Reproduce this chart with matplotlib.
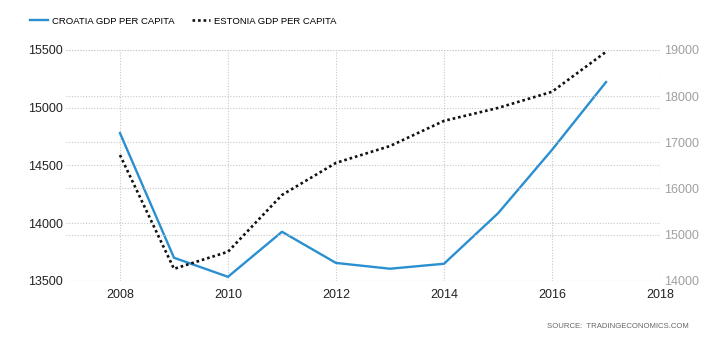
import matplotlib.pyplot as plt

plt.rcParams['font.family'] = ['Liberation Sans', 'DejaVu Sans']

years = [2008, 2009, 2010, 2011, 2012, 2013, 2014, 2015, 2016, 2017]
croatia = [14780, 13700, 13535, 13925, 13655, 13605, 13648, 14085, 14635, 15222]
estonia = [16725, 14260, 14630, 15860, 16555, 16920, 17465, 17745, 18095, 18960]

left_ticks = [13500, 14000, 14500, 15000, 15500]
right_ticks = [14000, 15000, 16000, 17000, 18000, 19000]
year_ticks = [2008, 2010, 2012, 2014, 2016, 2018]

fig = plt.figure(figsize=(7.14, 3.4), dpi=100)
ax = fig.add_axes([0.0924, 0.174, 0.832, 0.679])
ax2 = ax.twinx()

grid_kw = dict(color='#c8c8c8', linestyle=(0, (1, 1.5)), linewidth=0.8)

l1, = ax.plot(years, croatia, color='#2a8fd0', linewidth=1.7, label='CROATIA GDP PER CAPITA')
l2, = ax2.plot(years, estonia, color='#111111', linewidth=1.9, linestyle=(0, (1, 1.1)),
               label='ESTONIA GDP PER CAPITA')

ax.set_xlim(2007, 2018)
ax.set_ylim(13500, 15500)
ax2.set_ylim(14000, 19000)
ax.set_xticks(year_ticks)
ax.set_yticks(left_ticks)
ax2.set_yticks(right_ticks)

ax.grid(True, **grid_kw)
ax2.grid(True, axis='y', **grid_kw)
ax.set_axisbelow(True)
ax2.set_axisbelow(True)

for a in (ax, ax2):
    for s in a.spines.values():
        s.set_visible(False)

ax.tick_params(axis='both', length=0, labelsize=9, labelcolor='#222222')
ax.tick_params(axis='y', pad=2)
ax.tick_params(axis='x', pad=6)
ax2.tick_params(axis='y', length=0, labelsize=9, labelcolor='#a0a0a0', pad=3)

fig.legend(handles=[l1, l2], loc='center left', bbox_to_anchor=(0.042, 0.938), ncol=2,
           frameon=False, fontsize=6.8, handlelength=1.95, handletextpad=0.4,
           columnspacing=1.8, borderpad=0, borderaxespad=0)

fig.text(0.964, 0.041, 'SOURCE:  TRADINGECONOMICS.COM', ha='right', va='center',
         fontsize=5.6, color='#666666')

fig.savefig('out.png', dpi=100)
